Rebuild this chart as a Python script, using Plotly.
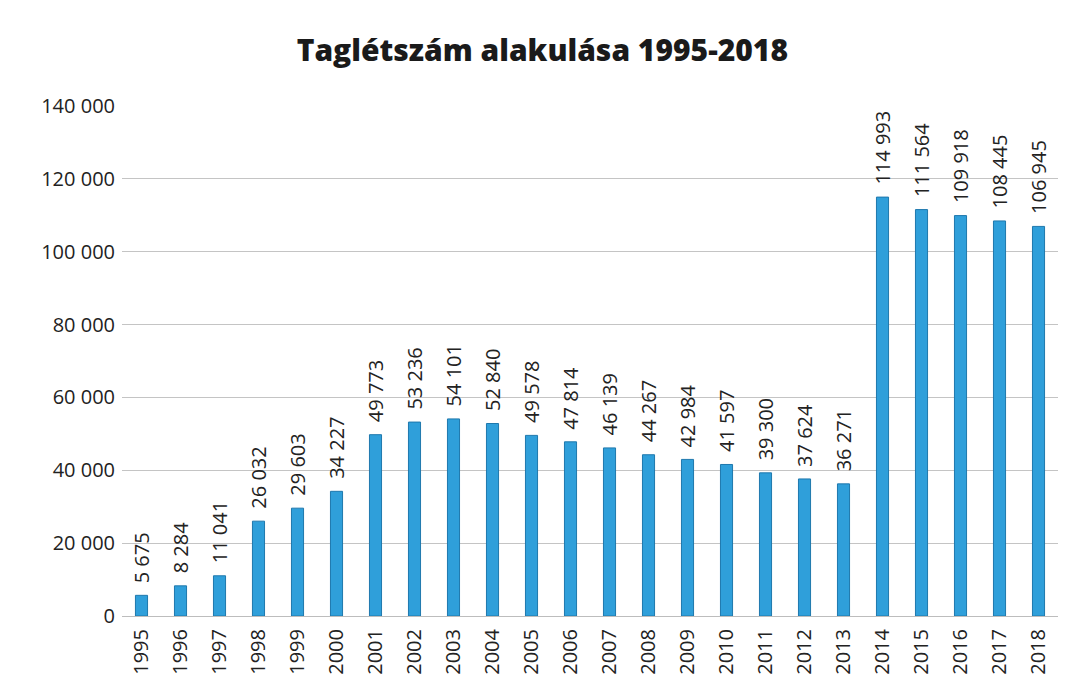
import plotly.graph_objects as go

years = [str(y) for y in range(1995, 2019)]
members = [5675, 8284, 11041, 26032, 29603, 34227, 49773, 53236, 54101, 52840,
           49578, 47814, 46139, 44267, 42984, 41597, 39300, 37624, 36271,
           114993, 111564, 109918, 108445, 106945]
labels = [f"{v:,}".replace(",", " ") for v in members]
yticks = list(range(0, 140001, 20000))
yticklabels = [f"{v:,}".replace(",", " ") for v in yticks]

FONT = "Open Sans, Liberation Sans, sans-serif"

fig = go.Figure(go.Bar(
    x=years, y=members,
    marker=dict(color="#2f9fda", line=dict(color="#1e78ad", width=1)),
))

for i, (v, lab) in enumerate(zip(members, labels)):
    fig.add_annotation(x=i, y=v, text=lab, textangle=-90, showarrow=False,
                       yanchor="bottom", xanchor="center", yshift=10,
                       font=dict(family=FONT, size=20, color="#222"))

fig.update_layout(
    width=1074, height=690,
    margin=dict(l=122, r=16, t=106, b=74),
    paper_bgcolor="white", plot_bgcolor="white",
    bargap=0.69,
    showlegend=False,
    title=dict(text="Taglétszám alakulása 1995-2018", x=0.505, xanchor="center",
               y=0.927, yanchor="middle",
               font=dict(family="Open Sans, sans-serif", size=30, weight=800,
                         color="#1a1a1a")),
    font=dict(family=FONT, size=20, color="#222"),
)
fig.update_xaxes(type="category", tickangle=-90, showgrid=False, showline=True,
                 linecolor="#bdbdbd", linewidth=1, ticks="", ticklabelstandoff=4,
                 tickfont=dict(size=20))
fig.update_yaxes(range=[0, 140000], tickvals=yticks, ticktext=yticklabels,
                 showgrid=True, gridcolor="#c4c4c4", gridwidth=1, zeroline=False,
                 showline=False, ticks="", ticklabelstandoff=6, tickfont=dict(size=20))

fig.write_html("out.html", config={"displayModeBar": False},
               post_script="document.body.style.margin='0';")
